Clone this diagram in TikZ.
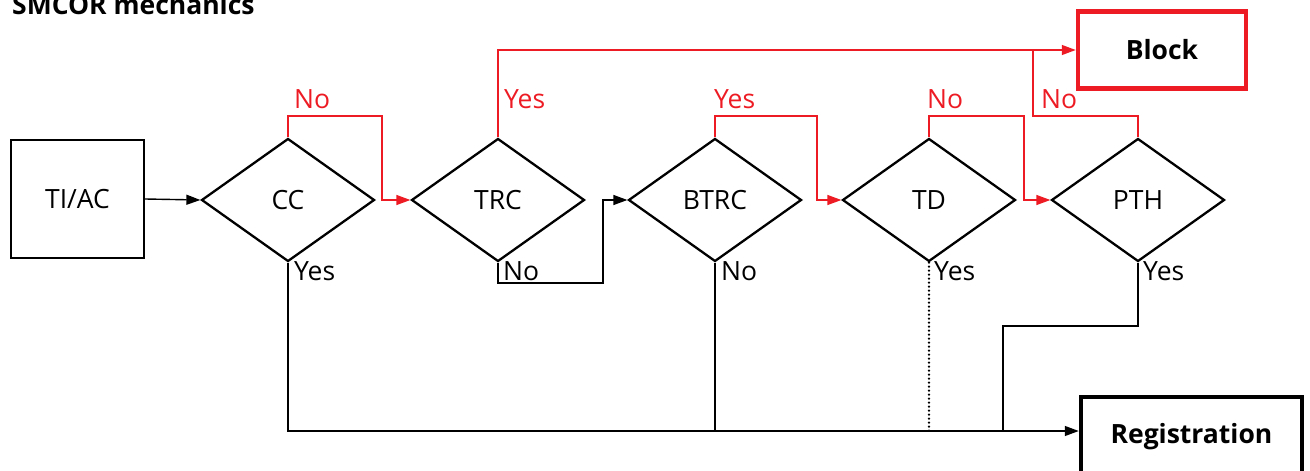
\documentclass[tikz,border=0pt]{standalone}
\usepackage{fontspec}
\setmainfont{Open Sans}
\usetikzlibrary{shapes.geometric,arrows.meta}
\definecolor{flowred}{RGB}{237,28,36}
\begin{document}
\begin{tikzpicture}[x=1pt,y=-1pt,
  every node/.style={font=\fontsize{26.5}{31}\selectfont},
  decision/.style={diamond,draw=black,line width=2.3pt,minimum width=173pt,minimum height=123pt,inner sep=0pt},
  startbox/.style={rectangle,draw=black,line width=2.3pt,minimum width=133pt,minimum height=118pt,inner sep=0pt},
  endbox/.style={rectangle,line width=4.5pt,inner sep=0pt,font=\fontsize{26.5}{31}\selectfont\bfseries},
  conn/.style={draw=black,line width=1.4pt},
  rconn/.style={draw=flowred,line width=1.4pt},
  dotconn/.style={draw=black,line width=2.6pt,line cap=round,dash pattern=on 0pt off 4pt},
  tip/.style={-{Triangle[length=14pt,width=10pt]}},
  lbl/.style={anchor=base west,inner sep=0pt},
  rlbl/.style={lbl,text=flowred}]
\useasboundingbox (0,0) rectangle (1310,471);

% title
\node[anchor=base west,inner sep=0pt,font=\fontsize{26.5}{31}\selectfont\bfseries] (title) at (12,15) {SMCOR mechanics};

% nodes
\node[startbox] (start) at (77.5,199) {TI/AC};
\node[decision] (CC)   at (288,200) {CC};
\node[decision] (TRC)  at (498,200) {TRC};
\node[decision] (BTRC) at (715,200) {BTRC};
\node[decision] (TD)   at (929,200) {TD};
\node[decision] (PTH)  at (1138,200) {PTH};
\node[endbox,draw=flowred,minimum width=168pt,minimum height=77pt] (block) at (1162,50) {Block};
\node[endbox,draw=black,minimum width=221pt,minimum height=80pt] (reg) at (1191.5,437) {Registration};

% level of the common line into Registration
\coordinate (bus) at (0,431);

% entry
\draw[conn,tip] (start.east) -- (CC.west);

% CC
\draw[rconn,tip] (CC.north) |- (382,116) |- (TRC.west);
\node[rlbl] (ccno) at (294,108) {No};
\draw[conn,tip] (CC.south) |- (reg.west |- bus);
\node[lbl] (ccyes) at (294,280) {Yes};

% TRC
\draw[rconn,tip] (TRC.north) |- (block.west);
\node[rlbl] (trcyes) at (504,108) {Yes};
\draw[conn,tip] (TRC.south) |- (603,283) |- (BTRC.west);
\node[lbl] (trcno) at (503,280) {No};

% BTRC
\draw[rconn,tip] (BTRC.north) |- (817,116) |- (TD.west);
\node[rlbl] (btrcyes) at (714,108) {Yes};
\draw[conn] (BTRC.south) -- (BTRC.south |- bus);
\node[lbl] (btrcno) at (721,280) {No};

% TD
\draw[rconn,tip] (TD.north) |- (1024,116) |- (PTH.west);
\node[rlbl] (tdno) at (927,108) {No};
\draw[dotconn] (TD.south) -- (TD.south |- bus);
\node[lbl] (tdyes) at (934,280) {Yes};

% PTH
\coordinate (pthbend) at (1033,116);
\draw[rconn] (PTH.north) |- (pthbend) -- (pthbend |- block.west);
\node[rlbl] (pthno) at (1041,108) {No};
\draw[conn] (PTH.south) |- (1003,326) -- (1003,431);
\node[lbl] (pthyes) at (1143,280) {Yes};
\end{tikzpicture}
\end{document}
